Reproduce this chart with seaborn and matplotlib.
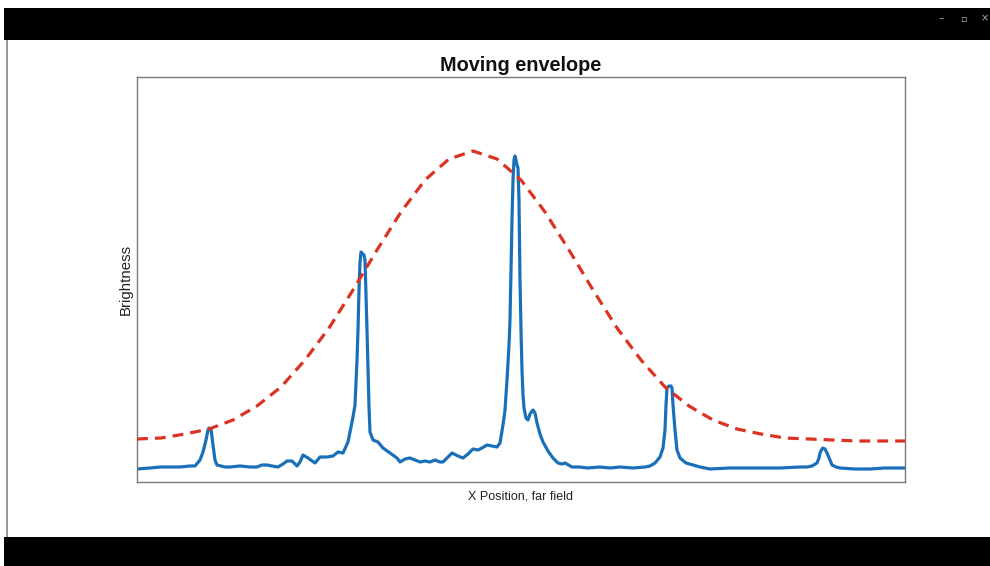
import matplotlib
matplotlib.use("Agg")
import matplotlib.pyplot as plt
import seaborn as sns
import pandas as pd
from matplotlib.patches import Rectangle

# ---- data (x position, brightness) ----
signal_points = [
    (0, 13), (13, 14), (23, 15), (33, 15), (43, 15), (53, 16), (58, 16), (63, 22),
    (66, 30), (69, 42), (71, 52), (72, 54), (74, 53), (76, 37), (78, 22), (80, 17),
    (88, 15), (93, 15), (103, 16), (113, 15), (120, 15), (125, 17), (130, 17),
    (135, 16), (141, 15), (146, 18), (150, 21), (155, 21), (160, 16), (163, 20),
    (166, 27), (171, 24), (178, 19), (183, 25), (190, 25), (196, 26), (201, 30),
    (206, 29), (211, 40), (216, 65), (218, 77), (220, 122), (221, 152), (222, 192),
    (223, 220), (224, 230), (225, 229), (227, 227), (228, 222), (229, 187),
    (230, 152), (231, 112), (232, 75), (233, 50), (236, 42), (241, 40), (246, 34),
    (253, 29), (260, 24), (263, 20), (268, 23), (273, 24), (278, 22), (283, 20),
    (288, 21), (293, 20), (298, 22), (303, 20), (306, 20), (310, 24), (315, 29),
    (321, 26), (326, 24), (331, 28), (336, 33), (341, 32), (345, 34), (350, 37),
    (355, 36), (360, 35), (363, 39), (366, 57), (368, 72), (370, 102), (372, 137),
    (373, 162), (374, 212), (375, 262), (376, 302), (377, 322), (378, 326),
    (379, 322), (380, 317), (381, 314), (382, 282), (383, 202), (384, 152),
    (385, 112), (386, 87), (387, 74), (389, 64), (391, 62), (393, 68), (396, 72),
    (398, 69), (400, 59), (403, 48), (406, 40), (411, 31), (416, 24), (421, 19),
    (425, 18), (428, 19), (435, 15), (443, 15), (450, 14), (463, 15), (473, 14),
    (483, 15), (496, 14), (508, 15), (513, 16), (518, 19), (523, 25), (526, 34),
    (528, 52), (529, 77), (530, 94), (532, 96), (534, 96), (535, 94), (536, 77),
    (538, 52), (540, 32), (543, 24), (549, 19), (556, 17), (563, 15), (573, 13),
    (593, 14), (616, 14), (643, 14), (663, 15), (670, 15), (675, 16), (680, 19),
    (682, 24), (683, 29), (685, 33), (686, 34), (688, 33), (690, 29), (693, 22),
    (695, 17), (699, 15), (703, 14), (718, 13), (733, 13), (748, 14), (766, 14),
    (768, 14),
]
signal_x = [p[0] for p in signal_points]
signal_y = [p[1] for p in signal_points]

envelope_x = [0, 24, 48, 72, 96, 120, 144, 168, 192, 216, 240, 264, 288, 312, 336,
              360, 384, 408, 432, 456, 480, 504, 528, 552, 576, 600, 624, 648, 672,
              696, 720, 744, 768]
envelope_y = [43, 44, 48, 53, 62, 76, 95, 122, 154, 192, 232, 270, 302, 323, 331,
              323, 302, 270, 232, 192, 154, 122, 95, 76, 62, 53, 48, 44, 43, 42, 41,
              41, 41]

title_text = "Moving envelope"
xlabel_text = "X Position, far field"
ylabel_text = "Brightness"

# ---- style ----
sns.set_style("white")
plt.rcParams["font.family"] = ["Liberation Sans", "DejaVu Sans"]

W, H = 990, 566
fig = plt.figure(figsize=(W / 100, H / 100), dpi=100)
fig.patch.set_facecolor("white")

# window chrome of the screenshot
fig.add_artist(Rectangle((4 / W, 1 - 40 / H), 1, 32 / H, transform=fig.transFigure,
                         facecolor="black", edgecolor="none", zorder=0))
fig.add_artist(Rectangle((4 / W, 0), 1, (H - 537) / H, transform=fig.transFigure,
                         facecolor="black", edgecolor="none", zorder=0))
fig.add_artist(Rectangle((6 / W, (H - 537) / H), 1.6 / W, (537 - 40) / H,
                         transform=fig.transFigure, facecolor="#9a9a9a",
                         edgecolor="none", zorder=0))
for xx, ch in [(941, "–"), (963, "▫"), (985, "×")]:
    fig.text(xx / W, 1 - 18 / H, ch, color="#b0b0b0", fontsize=7,
             ha="center", va="center", family=["DejaVu Sans"])

ax = fig.add_axes([137 / W, 1 - 482 / H, 768 / W, 405 / H])

df_sig = pd.DataFrame({"x": signal_x, "y": signal_y})
df_env = pd.DataFrame({"x": envelope_x, "y": envelope_y})

sns.lineplot(data=df_env, x="x", y="y", ax=ax, color="#DA3322", linewidth=2.3,
             linestyle=(0, (3.4, 2.2)), sort=True, zorder=3)
sns.lineplot(data=df_sig, x="x", y="y", ax=ax, color="#1A70B8", linewidth=2.3,
             sort=True, zorder=2)

ax.set_xlim(0, 768)
ax.set_ylim(0, 405)
ax.set_xticks([])
ax.set_yticks([])
for s in ax.spines.values():
    s.set_color("#7a7a7a")
    s.set_linewidth(1.0)

ax.set_title(title_text, fontsize=14.3, fontweight="bold", color="#111111", pad=4)
ax.set_xlabel(xlabel_text, fontsize=9, color="#222222", labelpad=6)
ax.set_ylabel(ylabel_text, fontsize=10.8, color="#222222", labelpad=3)

fig.savefig("out.png", dpi=100)
